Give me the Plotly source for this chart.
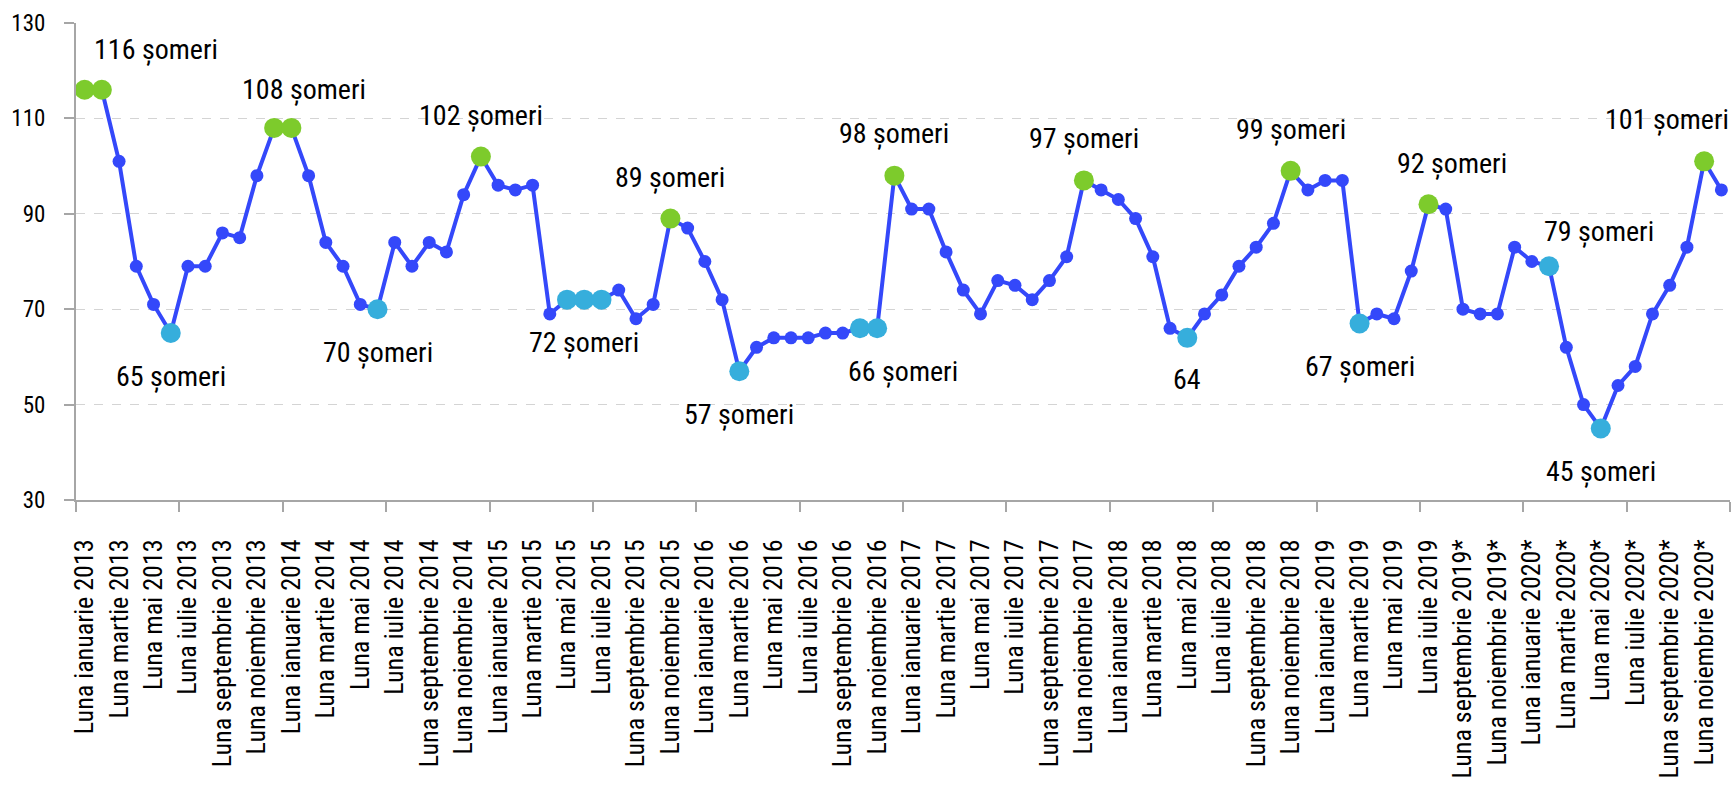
import plotly.graph_objects as go

# ---------------- data ----------------
values = [
    116, 116, 101, 79, 71, 65, 79, 79, 86, 85, 98, 108,      # 2013
    108, 98, 84, 79, 71, 70, 84, 79, 84, 82, 94, 102,        # 2014
    96, 95, 96, 69, 72, 72, 72, 74, 68, 71, 89, 87,          # 2015
    80, 72, 57, 62, 64, 64, 64, 65, 65, 66, 66, 98,          # 2016
    91, 91, 82, 74, 69, 76, 75, 72, 76, 81, 97, 95,          # 2017
    93, 89, 81, 66, 64, 69, 73, 79, 83, 88, 99, 95,          # 2018
    97, 97, 67, 69, 68, 78, 92, 91, 70, 69, 69, 83,          # 2019
    80, 79, 62, 50, 45, 54, 58, 69, 75, 83, 101, 95,         # 2020
]

tick_labels = [
    "Luna ianuarie 2013", "Luna martie 2013", "Luna mai 2013", "Luna iulie 2013",
    "Luna septembrie 2013", "Luna noiembrie 2013",
    "Luna ianuarie 2014", "Luna martie 2014", "Luna mai 2014", "Luna iulie 2014",
    "Luna septembrie 2014", "Luna noiembrie 2014",
    "Luna ianuarie 2015", "Luna martie 2015", "Luna mai 2015", "Luna iulie 2015",
    "Luna septembrie 2015", "Luna noiembrie 2015",
    "Luna ianuarie 2016", "Luna martie 2016", "Luna mai 2016", "Luna iulie 2016",
    "Luna septembrie 2016", "Luna noiembrie 2016",
    "Luna ianuarie 2017", "Luna martie 2017", "Luna mai 2017", "Luna iulie 2017",
    "Luna septembrie 2017", "Luna noiembrie 2017",
    "Luna ianuarie 2018", "Luna martie 2018", "Luna mai 2018", "Luna iulie 2018",
    "Luna septembrie 2018", "Luna noiembrie 2018",
    "Luna ianuarie 2019", "Luna martie 2019", "Luna mai 2019", "Luna iulie 2019",
    "Luna septembrie 2019*", "Luna noiembrie 2019*",
    "Luna ianuarie 2020*", "Luna martie 2020*", "Luna mai 2020*", "Luna iulie 2020*",
    "Luna septembrie 2020*", "Luna noiembrie 2020*",
]

# highlighted months (indices into values)
peak_points = [0, 1, 11, 12, 23, 34, 47, 58, 70, 78, 94]
trough_points = [5, 17, 28, 29, 30, 38, 45, 46, 64, 74, 85, 88]

# labelled points and their texts
label_points = [1, 11, 23, 34, 47, 58, 70, 78, 94,
                5, 17, 29, 38, 46, 64, 74, 85, 88]
label_texts = ["116 șomeri", "108 șomeri", "102 șomeri", "89 șomeri", "98 șomeri",
               "97 șomeri", "99 șomeri", "92 șomeri", "101 șomeri",
               "65 șomeri", "70 șomeri", "72 șomeri", "57 șomeri", "66 șomeri",
               "64", "67 șomeri", "79 șomeri", "45 șomeri"]

# ---------------- styles ----------------
FONT = "Noto Sans Condensed, Roboto Condensed, DejaVu Sans Condensed, sans-serif"
BLUE = "#3448FA"
GREEN = "#7DCB2C"
CYAN = "#36AEDC"
AXIS = "#A6A6A6"
GRID = "#D4D4D4"

# pixel offsets of labels from their point (dx, dy; dy positive = up)
label_offsets = [(54, 40), (30, 38), (0, 41), (0, 41), (0, 42), (0, 42), (0, 41), (24, 41), (-37, 42),
                 (0, -43), (0, -43), (0, -43), (0, -43), (26, -43), (0, -42), (0, -43), (50, 35), (0, -43)]

x = list(range(len(values)))

fig = go.Figure()

fig.add_trace(go.Scatter(
    x=x, y=values, mode="lines+markers",
    line=dict(color=BLUE, width=4),
    marker=dict(color=BLUE, size=13),
    showlegend=False, hoverinfo="skip",
))

fig.add_trace(go.Scatter(
    x=[x[i] for i in peak_points], y=[values[i] for i in peak_points],
    mode="markers", marker=dict(color=GREEN, size=20),
    showlegend=False, hoverinfo="skip",
))
fig.add_trace(go.Scatter(
    x=[x[i] for i in trough_points], y=[values[i] for i in trough_points],
    mode="markers", marker=dict(color=CYAN, size=20),
    showlegend=False, hoverinfo="skip",
))

for idx, txt, (dx, dy) in zip(label_points, label_texts, label_offsets):
    fig.add_annotation(
        x=x[idx], y=values[idx], text=txt, showarrow=False,
        xshift=dx, yshift=dy, xanchor="center", yanchor="middle",
        font=dict(family=FONT, size=28, color="#000000"),
    )

fig.update_layout(
    width=1731, height=788,
    margin=dict(l=76, r=1, t=23, b=288, pad=0),
    paper_bgcolor="white", plot_bgcolor="white",
    font=dict(family=FONT, color="#000000"),
)

fig.update_xaxes(
    range=[-0.5, len(values) - 0.5],
    tickmode="array", tickvals=x[::2], ticktext=tick_labels,
    tickangle=-90, tickfont=dict(family=FONT, size=26, color="#000000"),
    ticks="", ticklabelstandoff=27, automargin=False,
    showline=True, linecolor=AXIS, linewidth=2,
    showgrid=False, zeroline=False,
    minor=dict(tickmode="array", tickvals=[v - 0.5 for v in x[::6]] + [len(values) - 0.5],
               ticks="outside", ticklen=10, tickcolor=AXIS, tickwidth=2, showgrid=False),
)

fig.update_yaxes(
    range=[30, 130], tickmode="linear", tick0=30, dtick=20,
    tickfont=dict(family=FONT, size=23, color="#000000"),
    ticks="outside", ticklen=10, tickcolor=AXIS, tickwidth=2,
    ticklabelstandoff=14, automargin=False,
    showline=True, linecolor=AXIS, linewidth=2,
    showgrid=True, gridcolor=GRID, griddash="dash", gridwidth=1,
    zeroline=False,
)

fig.write_html("out.html", config={"displayModeBar": False},
               post_script="document.body.style.margin='0px';")
